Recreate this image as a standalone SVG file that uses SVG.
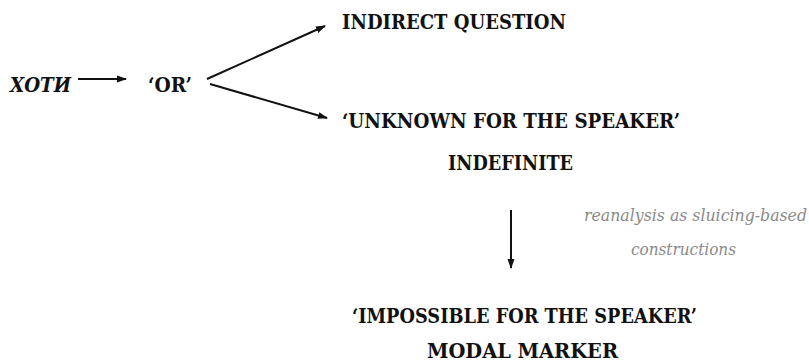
<svg xmlns="http://www.w3.org/2000/svg" width="809" height="363" viewBox="0 0 809 363">
<style>
.t{font-family:"DejaVu Serif","Liberation Serif","Noto Serif",serif;font-weight:bold;font-size:21px;fill:#111}
.i{font-family:"DejaVu Serif","Liberation Serif","Noto Serif",serif;font-style:italic;font-size:16px;fill:#8a8a8a}
.c{stroke:#111;stroke-width:2;fill:none}
</style>
<defs>
<marker id="ah" viewBox="0 0 10 10" refX="9" refY="5" markerWidth="5" markerHeight="5" orient="auto" markerUnits="strokeWidth">
<path d="M0,1.5 L10,5 L0,8.5 Z" fill="#111"/>
</marker>
</defs>
<rect width="809" height="363" fill="#fff"/>
<g id="n-hoti"><text class="t" x="10" y="92" font-style="italic" textLength="61" lengthAdjust="spacingAndGlyphs">ХОТИ</text></g>
<g id="n-or"><text class="t" x="148" y="92" textLength="44" lengthAdjust="spacingAndGlyphs">‘OR’</text></g>
<g id="n-indirect"><text class="t" x="342" y="29" textLength="224" lengthAdjust="spacingAndGlyphs">INDIRECT QUESTION</text></g>
<g id="n-unknown">
<text class="t" x="342" y="128" textLength="338" lengthAdjust="spacingAndGlyphs">‘UNKNOWN FOR THE SPEAKER’</text>
<text class="t" x="448" y="170" textLength="125" lengthAdjust="spacingAndGlyphs">INDEFINITE</text>
</g>
<g id="n-impossible">
<text class="t" x="352" y="323" textLength="345" lengthAdjust="spacingAndGlyphs">‘IMPOSSIBLE FOR THE SPEAKER’</text>
<text class="t" x="427" y="358" textLength="191" lengthAdjust="spacingAndGlyphs">MODAL MARKER</text>
</g>
<g id="connectors">
<line class="c" x1="78" y1="79" x2="126" y2="79" marker-end="url(#ah)"/>
<line class="c" x1="207" y1="79" x2="325" y2="26" marker-end="url(#ah)"/>
<line class="c" x1="210" y1="84" x2="327" y2="118" marker-end="url(#ah)"/>
<line class="c" x1="511" y1="210" x2="511" y2="268" marker-end="url(#ah)"/>
<g id="label-reanalysis">
<text class="i" x="584" y="221" textLength="223" lengthAdjust="spacingAndGlyphs">reanalysis as sluicing-based</text>
<text class="i" x="631" y="255" textLength="105" lengthAdjust="spacingAndGlyphs">constructions</text>
</g>
</g>
</svg>
